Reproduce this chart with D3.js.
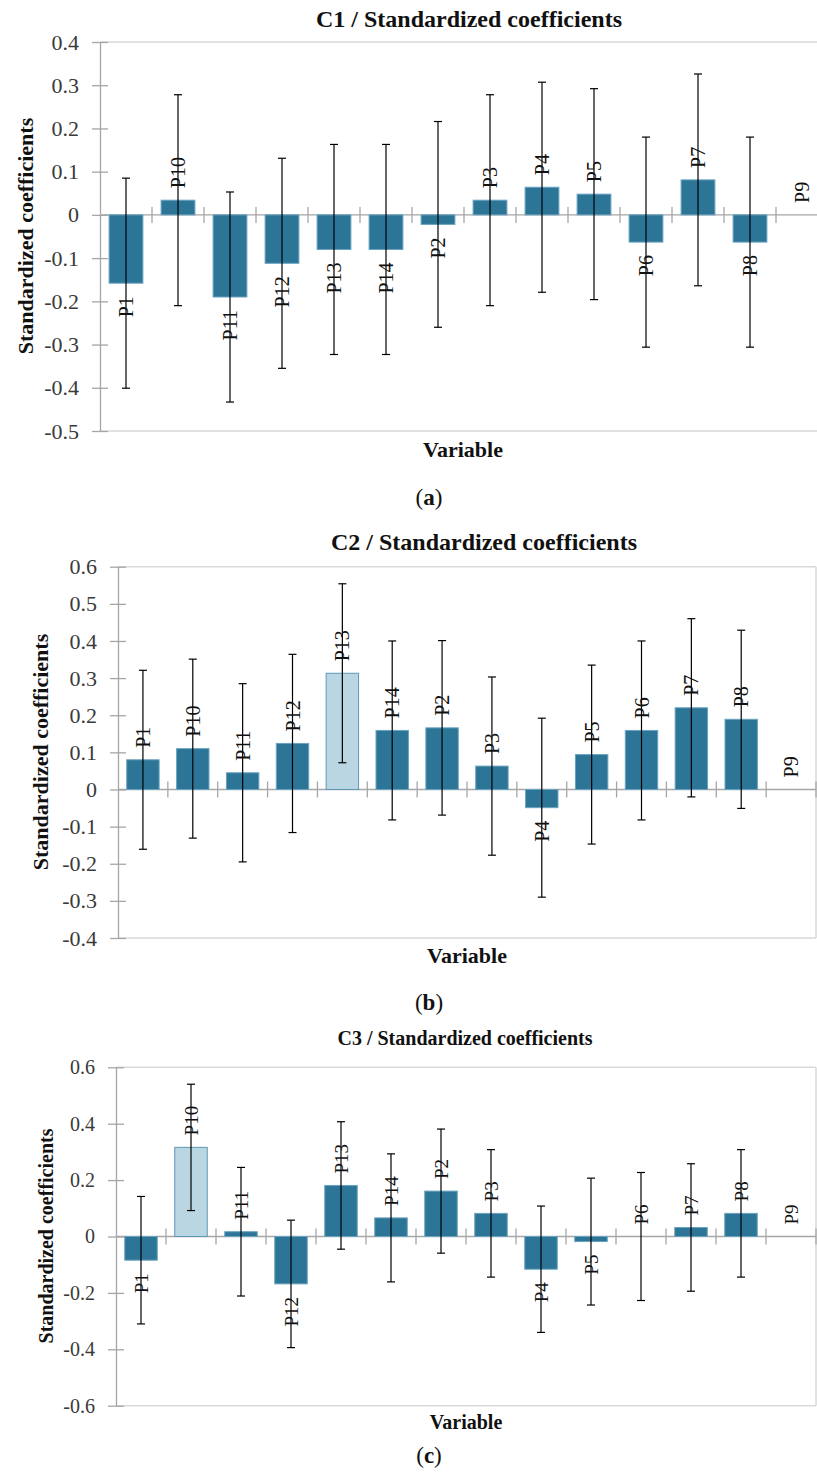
<!DOCTYPE html>
<html>
<head>
<meta charset="utf-8">
<script src="https://cdn.jsdelivr.net/npm/d3@7"></script>
<style>
  body { margin: 0; background: #fff; }
  svg { display: block; }
  text { font-family: "Liberation Serif", "Times New Roman", serif; }
</style>
</head>
<body>
<div id="chart"></div>
<script>
// categories (same order in all three panels)
const categories = ["P1", "P10", "P11", "P12", "P13", "P14", "P2", "P3", "P4", "P5", "P6", "P7", "P8", "P9"];

// C1
const c1Values = [-0.158, 0.034, -0.19, -0.112, -0.08, -0.08, -0.022, 0.034, 0.064, 0.048, -0.063, 0.081, -0.063, 0];
const c1Errors = [0.243, 0.244, 0.243, 0.243, 0.243, 0.243, 0.238, 0.244, 0.243, 0.244, 0.243, 0.245, 0.243, 0];
const c1Ticks = [-0.5, -0.4, -0.3, -0.2, -0.1, 0, 0.1, 0.2, 0.3, 0.4];

// C2
const c2Values = [0.08, 0.11, 0.045, 0.124, 0.313, 0.159, 0.166, 0.063, -0.049, 0.094, 0.159, 0.22, 0.189, 0];
const c2Errors = [0.241, 0.241, 0.24, 0.24, 0.241, 0.241, 0.235, 0.24, 0.241, 0.241, 0.241, 0.24, 0.24, 0];
const c2Ticks = [-0.4, -0.3, -0.2, -0.1, 0, 0.1, 0.2, 0.3, 0.4, 0.5, 0.6];
const c2Highlight = ["P13"];

// C3
const c3Values = [-0.084, 0.316, 0.017, -0.168, 0.181, 0.066, 0.161, 0.082, -0.116, -0.018, 0, 0.032, 0.082, 0];
const c3Errors = [0.226, 0.224, 0.228, 0.226, 0.226, 0.227, 0.22, 0.226, 0.224, 0.225, 0.227, 0.226, 0.226, 0];
const c3Ticks = [-0.6, -0.4, -0.2, 0, 0.2, 0.4, 0.6];
const c3Highlight = ["P10"];

const W = 817, H = 1472

var svg = d3.select("#chart").append("svg")
  .attr("width", W)
  .attr("height", H)

function fmt(d) { return d === 0 ? "0" : d.toFixed(1) }

function drawPanel(p) {
  var x = d3.scaleBand()
    .domain(categories)
    .range([p.left, p.right])
    .paddingInner(0.35)
    .paddingOuter(0.175)

  var y = d3.scaleLinear()
    .domain([p.ticks[0], p.ticks[p.ticks.length - 1]])
    .range([p.bottom, p.top])

  var g = svg.append("g")

  // plot area border (top, bottom, right)
  g.append("line").attr("x1", p.left).attr("x2", p.right).attr("y1", p.top).attr("y2", p.top)
    .attr("stroke", "#d9d9d9").attr("stroke-width", 1.5)
  g.append("line").attr("x1", p.left).attr("x2", p.right).attr("y1", p.bottom).attr("y2", p.bottom)
    .attr("stroke", "#d9d9d9").attr("stroke-width", 1.5)
  g.append("line").attr("x1", p.right).attr("x2", p.right).attr("y1", p.top).attr("y2", p.bottom)
    .attr("stroke", "#d9d9d9").attr("stroke-width", 1.5)

  // y axis with cross ticks
  var ya = g.append("g")
    .attr("transform", "translate(" + p.left + ",0)")
    .call(d3.axisLeft(y).tickValues(p.ticks).tickFormat(fmt).tickSizeInner(8).tickSizeOuter(0).tickPadding(13))
  ya.attr("font-family", null).attr("font-size", null)
  ya.select(".domain").attr("stroke", "#a6a6a6").attr("stroke-width", 1.3)
  ya.selectAll(".tick line").attr("x1", 8).attr("stroke", "#a6a6a6").attr("stroke-width", 1.3)
  ya.selectAll(".tick text")
    .style("font-family", "'Liberation Serif', serif")
    .style("font-size", p.tickSize + "px")
    .attr("fill", "#3a3a3a")

  // zero line and category ticks
  g.append("line").attr("x1", p.left).attr("x2", p.right).attr("y1", y(0)).attr("y2", y(0))
    .attr("stroke", "#a6a6a6").attr("stroke-width", 1.3)
  g.selectAll(".ctick")
    .data(d3.range(1, categories.length + 1))
    .enter().append("line")
    .attr("x1", function(k) { return p.left + k * x.step() })
    .attr("x2", function(k) { return p.left + k * x.step() })
    .attr("y1", y(0) - 8)
    .attr("y2", y(0) + 8)
    .attr("stroke", "#a6a6a6").attr("stroke-width", 1.3)

  var data = categories.map(function(c, i) { return {c: c, v: p.values[i], e: p.errors[i]} })

  // bars
  g.selectAll(".bar")
    .data(data)
    .enter().append("rect")
    .attr("x", function(d) { return x(d.c) })
    .attr("width", x.bandwidth())
    .attr("y", function(d) { return y(Math.max(0, d.v)) })
    .attr("height", function(d) { return Math.abs(y(d.v) - y(0)) })
    .attr("fill", function(d) { return p.highlight.indexOf(d.c) >= 0 ? "#b9d6e2" : "#2c7596" })
    .attr("stroke", function(d) { return p.highlight.indexOf(d.c) >= 0 ? "#5d98b6" : "#6aa3c0" })
    .attr("stroke-width", function(d) { return d.v === 0 ? 0 : 1 })

  // error bars
  var eb = g.selectAll(".err")
    .data(data.filter(function(d) { return d.e > 0 }))
    .enter().append("g")
  eb.append("line")
    .attr("x1", function(d) { return x(d.c) + x.bandwidth() / 2 })
    .attr("x2", function(d) { return x(d.c) + x.bandwidth() / 2 })
    .attr("y1", function(d) { return y(d.v + d.e) })
    .attr("y2", function(d) { return y(d.v - d.e) })
    .attr("stroke", "#000").attr("stroke-width", 1.2)
  ;[1, -1].forEach(function(s) {
    eb.append("line")
      .attr("x1", function(d) { return x(d.c) + x.bandwidth() / 2 - 4 })
      .attr("x2", function(d) { return x(d.c) + x.bandwidth() / 2 + 4 })
      .attr("y1", function(d) { return y(d.v + s * d.e) })
      .attr("y2", function(d) { return y(d.v + s * d.e) })
      .attr("stroke", "#000").attr("stroke-width", 1.2)
  })

  // rotated data labels
  g.selectAll(".lbl")
    .data(data)
    .enter().append("text")
    .attr("transform", function(d) {
      var yy = d.v >= 0 ? y(d.v) - 12 : y(d.v) + 13
      return "translate(" + (x(d.c) + x.bandwidth() / 2) + "," + yy + ") rotate(-90)"
    })
    .attr("text-anchor", function(d) { return d.v >= 0 ? "start" : "end" })
    .attr("dy", "0.35em")
    .attr("font-size", p.labelSize)
    .attr("fill", "#111")
    .text(function(d) { return d.c })

  // titles
  svg.append("text")
    .attr("x", p.title.x).attr("y", p.title.y)
    .attr("text-anchor", "middle")
    .attr("font-weight", "bold")
    .attr("font-size", p.title.size)
    .attr("fill", "#111")
    .text(p.title.text)

  svg.append("text")
    .attr("x", p.xlabel.x).attr("y", p.xlabel.y)
    .attr("text-anchor", "middle")
    .attr("font-weight", "bold")
    .attr("font-size", p.xlabel.size)
    .attr("fill", "#111")
    .text("Variable")

  svg.append("text")
    .attr("transform", "translate(" + p.ylabel.x + "," + p.ylabel.y + ") rotate(-90)")
    .attr("text-anchor", "middle")
    .attr("font-weight", "bold")
    .attr("font-size", p.ylabel.size)
    .attr("fill", "#111")
    .text("Standardized coefficients")

  var sub = svg.append("text")
    .attr("x", p.sub.x).attr("y", p.sub.y)
    .attr("text-anchor", "middle")
    .attr("font-size", 23)
    .attr("fill", "#111")
  sub.append("tspan").text("(")
  sub.append("tspan").attr("font-weight", "bold").text(p.sub.text)
  sub.append("tspan").text(")")
}

drawPanel({
  values: c1Values, errors: c1Errors, ticks: c1Ticks, highlight: [],
  left: 100, right: 828, top: 42, bottom: 431,
  tickSize: 22, labelSize: 20,
  title: {text: "C1 / Standardized coefficients", x: 469, y: 27, size: 24},
  xlabel: {x: 463, y: 457, size: 22},
  ylabel: {x: 33, y: 236, size: 22},
  sub: {text: "a", x: 429, y: 505}
})

drawPanel({
  values: c2Values, errors: c2Errors, ticks: c2Ticks, highlight: c2Highlight,
  left: 118, right: 816, top: 566.7, bottom: 938,
  tickSize: 22, labelSize: 20,
  title: {text: "C2 / Standardized coefficients", x: 484, y: 550, size: 24},
  xlabel: {x: 467, y: 963, size: 22},
  ylabel: {x: 48, y: 752, size: 22},
  sub: {text: "b", x: 429, y: 1010}
})

drawPanel({
  values: c3Values, errors: c3Errors, ticks: c3Ticks, highlight: c3Highlight,
  left: 116, right: 816, top: 1067.3, bottom: 1405.7,
  tickSize: 20, labelSize: 19,
  title: {text: "C3 / Standardized coefficients", x: 465, y: 1045, size: 20},
  xlabel: {x: 466, y: 1429, size: 20},
  ylabel: {x: 53, y: 1236, size: 20},
  sub: {text: "c", x: 429, y: 1463}
})
</script>
</body>
</html>
